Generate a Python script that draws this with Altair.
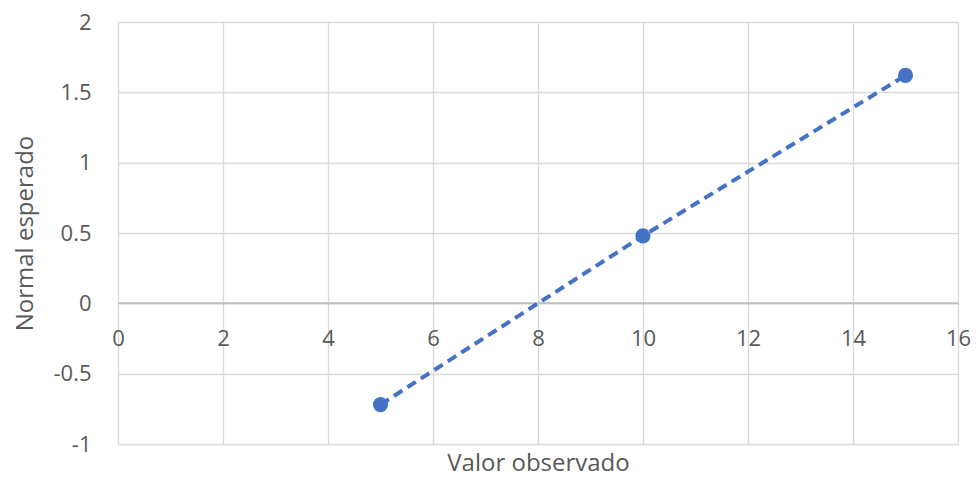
import altair as alt
import pandas as pd

# Data
observed = [5, 10, 15]
expected_normal = [-0.72, 0.48, 1.62]

x_ticks = [0, 2, 4, 6, 8, 10, 12, 14, 16]
y_ticks = [-1, -0.5, 0, 0.5, 1, 1.5, 2]

df = pd.DataFrame({"obs": observed, "exp": expected_normal})
zero_df = pd.DataFrame({"y0": [0]})

W, H = 840, 422
Y_MIN, Y_MAX = -1, 2
zero_from_bottom = H * (0 - Y_MIN) / (Y_MAX - Y_MIN)

TEXT = "#595959"
BLUE = "#4472C4"
FONT = "Open Sans"

x_enc = alt.X(
    "obs:Q",
    scale=alt.Scale(domain=[0, 16], nice=False, zero=False),
    axis=alt.Axis(
        values=x_ticks,
        title="Valor observado",
        grid=True,
        gridColor="#d9d9d9",
        gridWidth=1.3,
        domain=False,
        ticks=False,
        tickSize=0,
        labelFlush=False,
        labelOverlap=False,
        labelPadding=25,
        labelFontSize=22,
        labelColor=TEXT,
        labelFont=FONT,
        labelExpr="toString(datum.value)",
        offset=-zero_from_bottom,
        titleFontSize=24,
        titleFont=FONT,
        titleColor=TEXT,
        titleFontWeight="normal",
        titleBaseline="alphabetic",
        titleY=zero_from_bottom + 26,
    ),
)

y_enc = alt.Y(
    "exp:Q",
    scale=alt.Scale(domain=[Y_MIN, Y_MAX], nice=False, zero=False),
    axis=alt.Axis(
        values=y_ticks,
        title="Normal esperado",
        grid=True,
        gridColor="#d9d9d9",
        gridWidth=1.3,
        domain=False,
        ticks=False,
        tickSize=0,
        labelFlush=False,
        labelOverlap=False,
        labelPadding=27,
        labelFontSize=22,
        labelColor=TEXT,
        labelFont=FONT,
        labelExpr="toString(datum.value)",
        titleFontSize=24,
        titleFont=FONT,
        titleColor=TEXT,
        titleFontWeight="normal",
        titleAngle=270,
        titleBaseline="alphabetic",
        titleX=-86,
        titleY=H / 2,
    ),
)

base = alt.Chart(df)

line = base.mark_line(
    color=BLUE, strokeWidth=4, strokeDash=[10, 6]
).encode(x=x_enc, y=y_enc)

points = base.mark_point(
    filled=True, color=BLUE, opacity=1, size=230, shape="circle"
).encode(x="obs:Q", y="exp:Q")

zero_rule = alt.Chart(zero_df).mark_rule(color="#bfbfbf", strokeWidth=2).encode(
    y="y0:Q"
)

chart = (
    alt.layer(zero_rule, line, points)
    .properties(
        width=W,
        height=H,
        padding={"left": 110, "top": 14, "right": 13, "bottom": 27},
        autosize=alt.AutoSizeParams(type="none"),
        background="white",
    )
    .configure_view(stroke=None)
)

chart.save("out.html", embed_options={"renderer": "svg", "actions": False})
